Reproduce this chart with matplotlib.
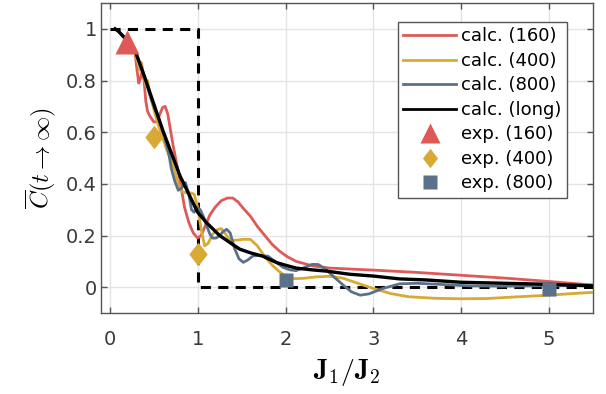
import matplotlib
matplotlib.use("Agg")
import matplotlib.pyplot as plt
from matplotlib.lines import Line2D
from matplotlib.path import Path

plt.rcParams['font.family'] = ['DejaVu Sans']
plt.rcParams['mathtext.fontset'] = 'cm'

# ---- data ----
red_x = [0.20, 0.25, 0.29, 0.31, 0.33, 0.35, 0.37, 0.39, 0.41, 0.43, 0.46, 0.50, 0.54, 0.57,
         0.60, 0.63, 0.66, 0.69, 0.72, 0.76, 0.80, 0.85, 0.90, 0.95, 1.00, 1.04, 1.09, 1.14,
         1.20, 1.27, 1.34, 1.40, 1.46, 1.52, 1.60, 1.68, 1.74, 1.85, 1.93, 2.02, 2.12, 2.31,
         2.50, 2.75, 3.00, 3.50, 4.00, 4.50, 5.00, 5.50]
red_y = [0.97, 0.94, 0.90, 0.84, 0.79, 0.81, 0.84, 0.80, 0.72, 0.68, 0.66, 0.64, 0.64, 0.67,
         0.695, 0.70, 0.67, 0.61, 0.55, 0.48, 0.41, 0.31, 0.25, 0.21, 0.19, 0.20, 0.24, 0.28,
         0.31, 0.335, 0.345, 0.345, 0.33, 0.305, 0.275, 0.235, 0.21, 0.165, 0.14, 0.118, 0.10, 0.082,
         0.074, 0.070, 0.066, 0.057, 0.046, 0.035, 0.022, 0.008]

yel_x = [0.10, 0.20, 0.27, 0.31, 0.34, 0.36, 0.38, 0.41, 0.43, 0.46, 0.50, 0.54, 0.58, 0.62,
         0.66, 0.70, 0.74, 0.78, 0.82, 0.87, 0.92, 0.96, 1.00, 1.04, 1.08, 1.12, 1.17, 1.22,
         1.27, 1.32, 1.37, 1.44, 1.52, 1.60, 1.68, 1.76, 1.85, 1.93, 2.02, 2.10, 2.20, 2.35,
         2.50, 2.65, 2.85, 3.00, 3.20, 3.40, 3.70, 4.00, 4.30, 4.60, 5.00, 5.30, 5.50]
yel_y = [0.99, 0.95, 0.92, 0.88, 0.84, 0.87, 0.83, 0.78, 0.80, 0.74, 0.69, 0.64, 0.60, 0.56,
         0.52, 0.49, 0.45, 0.40, 0.37, 0.365, 0.365, 0.36, 0.31, 0.224, 0.16, 0.17, 0.205, 0.222,
         0.227, 0.205, 0.18, 0.182, 0.185, 0.185, 0.16, 0.12, 0.085, 0.06, 0.04, 0.033, 0.034, 0.040,
         0.042, 0.035, 0.012, -0.005, -0.025, -0.037, -0.043, -0.045, -0.044, -0.038, -0.031, -0.024, -0.020]

blu_x = [0.10, 0.20, 0.28, 0.32, 0.36, 0.40, 0.45, 0.50, 0.55, 0.59, 0.63, 0.67, 0.70, 0.74,
         0.78, 0.82, 0.86, 0.90, 0.93, 0.96, 0.99, 1.03, 1.07, 1.10, 1.14, 1.17, 1.21, 1.25,
         1.29, 1.33, 1.37, 1.42, 1.47, 1.52, 1.57, 1.63, 1.70, 1.80, 1.88, 1.97, 2.05, 2.12,
         2.20, 2.30, 2.37, 2.45, 2.55, 2.65, 2.75, 2.85, 2.95, 3.10, 3.30, 3.50, 3.80, 4.10,
         4.50, 5.00, 5.50]
blu_y = [0.99, 0.955, 0.92, 0.88, 0.85, 0.81, 0.75, 0.70, 0.66, 0.62, 0.57, 0.52, 0.46, 0.41,
         0.375, 0.385, 0.405, 0.36, 0.30, 0.29, 0.31, 0.30, 0.27, 0.240, 0.205, 0.19, 0.19, 0.20,
         0.215, 0.224, 0.21, 0.15, 0.11, 0.096, 0.105, 0.121, 0.123, 0.12, 0.10, 0.077, 0.067, 0.064,
         0.074, 0.088, 0.088, 0.072, 0.040, 0.010, -0.018, -0.031, -0.026, -0.006, 0.013, 0.015, 0.010, 0.005,
         0.004, 0.006, 0.008]

blk_x = [0.06, 0.10, 0.17, 0.23, 0.30, 0.40, 0.50, 0.60, 0.70, 0.80, 0.90, 1.00, 1.10, 1.25,
         1.40, 1.48, 1.60, 1.74, 1.90, 2.00, 2.12, 2.30, 2.47, 2.73, 3.00, 3.30, 3.60, 4.00,
         4.50, 5.00, 5.50]
blk_y = [1.00, 0.99, 0.965, 0.94, 0.905, 0.81, 0.71, 0.61, 0.52, 0.43, 0.36, 0.29, 0.25, 0.20,
         0.165, 0.147, 0.133, 0.12, 0.095, 0.085, 0.074, 0.067, 0.062, 0.05, 0.043, 0.032, 0.028, 0.019,
         0.015, 0.011, 0.005]

step_x = [0.0, 1.0, 1.0, 5.5]
step_y = [1.0, 1.0, 0.0, 0.0]

exp160_x = [0.2]
exp160_y = [0.95]
exp400_x = [0.5, 1.0]
exp400_y = [0.58, 0.13]
exp800_x = [2.0, 5.0]
exp800_y = [0.028, -0.006]

labels = ['calc. (160)', 'calc. (400)', 'calc. (800)', 'calc. (long)',
          'exp. (160)', 'exp. (400)', 'exp. (800)']
xticks = [0, 1, 2, 3, 4, 5]
yticks = [0, 0.2, 0.4, 0.6, 0.8, 1]
ytick_labels = ['0', '0.2', '0.4', '0.6', '0.8', '1']

# ---- style ----
RED = '#DD5A57'
YEL = '#D9A935'
BLU = '#5B7189'
TXT = '#3a3a3a'
diamond = Path([(0, 1), (0.78, 0), (0, -1), (-0.78, 0), (0, 1)],
               [Path.MOVETO, Path.LINETO, Path.LINETO, Path.LINETO, Path.CLOSEPOLY])

fig = plt.figure(figsize=(6.06, 3.94), dpi=100)
ax = fig.add_axes([101/606, 1-313/394, 492/606, 310/394])

ax.grid(True, color='#e4e4e4', lw=1.0, zorder=0)
ax.set_axisbelow(True)

ax.plot(step_x, step_y, color='black', lw=2.2, dashes=(3.3, 2.4), zorder=2)
ax.plot(red_x, red_y, color=RED, lw=2.0, zorder=3)
ax.plot(yel_x, yel_y, color=YEL, lw=2.0, zorder=3)
ax.plot(blu_x, blu_y, color=BLU, lw=2.0, zorder=3)
ax.plot(blk_x, blk_y, color='black', lw=2.4, zorder=4)

ax.plot(exp160_x, exp160_y, ls='none', marker='^', ms=17, color=RED, mec='none', zorder=5)
ax.plot(exp400_x, exp400_y, ls='none', marker=diamond, ms=17, color=YEL, mec='none', zorder=5)
ax.plot(exp800_x, exp800_y, ls='none', marker='s', ms=9.5, color=BLU, mec='none', zorder=5)

ax.set_xlim(-0.1, 5.5)
ax.set_ylim(-0.1, 1.1)
ax.set_xticks(xticks)
ax.set_yticks(yticks)
ax.set_yticklabels(ytick_labels)
ax.tick_params(direction='in', length=4, width=1, colors='#555555', labelcolor=TXT,
               labelsize=14, top=True, right=True)
ax.tick_params(axis='x', pad=12)
ax.tick_params(axis='y', pad=3)
for s in ax.spines.values():
    s.set_color('#555555')
    s.set_linewidth(1.0)

ax.set_xlabel(r'$\mathbf{J}_1/\mathbf{J}_2$', fontsize=20, color='black', labelpad=6)
ax.set_ylabel(r'$\overline{C}(t\to\infty)$', fontsize=17.5, color='black', labelpad=6)

handles = [
    Line2D([], [], color=RED, lw=2.0),
    Line2D([], [], color=YEL, lw=2.0),
    Line2D([], [], color=BLU, lw=2.0),
    Line2D([], [], color='black', lw=2.0),
    Line2D([], [], ls='none', marker='^', ms=14, color=RED, mec='none'),
    Line2D([], [], ls='none', marker=diamond, ms=14, color=YEL, mec='none'),
    Line2D([], [], ls='none', marker='s', ms=10, color=BLU, mec='none'),
]
leg = ax.legend(handles, labels, loc='upper right', bbox_to_anchor=(0.947, 0.939),
                borderaxespad=0, fontsize=13, handlelength=2.9, handletextpad=0.3,
                labelspacing=0.36, borderpad=0.3, fancybox=False, framealpha=1,
                edgecolor='#555555')
leg.get_frame().set_linewidth(1.0)
for t in leg.get_texts():
    t.set_color('black')

fig.savefig('out.png', dpi=100)
